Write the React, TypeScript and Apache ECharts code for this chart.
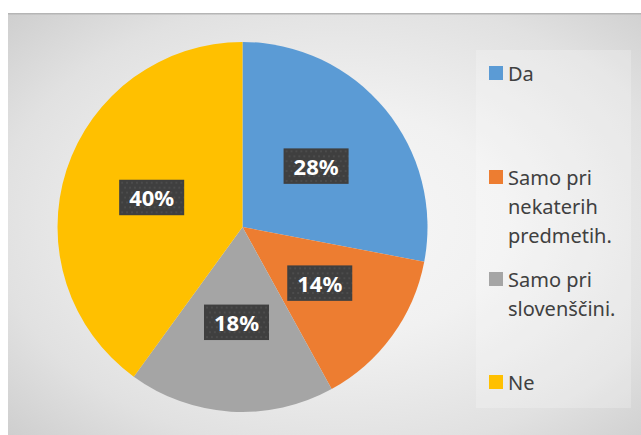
import React, { useEffect, useRef } from "react";
import * as echarts from "echarts";

const categories = ["Da", "Samo pri nekaterih predmetih.", "Samo pri slovenščini.", "Ne"];
const legendLines = [["Da"], ["Samo pri", "nekaterih", "predmetih."], ["Samo pri", "slovenščini."], ["Ne"]];
const values = [28, 14, 18, 40];
const colors = ["#5B9BD5", "#ED7D31", "#A5A5A5", "#FFC000"];
const legendFirstLineY = [60, 164, 266, 369];

function makeTexture(w: number, h: number): any {
  const c = document.createElement("canvas");
  c.width = w;
  c.height = h;
  const ctx = c.getContext("2d");
  if (!ctx) return "#404040";
  ctx.fillStyle = "#3f3f3f";
  ctx.fillRect(0, 0, w, h);
  ctx.fillStyle = "#4c4c4c";
  for (let y = 2; y < h; y += 5) {
    for (let x = ((y / 5) % 2) * 2.5 + 1; x < w; x += 5) {
      ctx.fillRect(Math.round(x), y, 2, 2);
    }
  }
  return c;
}

export default function App() {
  const ref = useRef<HTMLDivElement>(null);
  useEffect(() => {
    if (!ref.current) return;
    const chart = echarts.init(ref.current, null, { renderer: "svg" });
    const legendGraphics: any[] = [];
    legendLines.forEach((lines, i) => {
      const y = legendFirstLineY[i];
      legendGraphics.push({
        type: "rect",
        shape: { x: 481, y: y - 7, width: 14, height: 14 },
        style: { fill: colors[i] },
        silent: true,
      });
      legendGraphics.push({
        type: "text",
        x: 500,
        y: y - 14.5,
        style: {
          text: lines.join("\n"),
          fill: "#404040",
          fontSize: 20,
          fontFamily: "Noto Sans",
          lineHeight: 29,
          verticalAlign: "top",
          align: "left",
        },
        silent: true,
      });
    });
    const tex = makeTexture(66, 36);
    chart.setOption({
      animation: false,
      backgroundColor: {
        type: "radial",
        x: 0.52,
        y: 0.5,
        r: 0.9,
        colorStops: [
          { offset: 0, color: "#f7f7f7" },
          { offset: 0.3, color: "#f1f1f1" },
          { offset: 0.6, color: "#e1e1e1" },
          { offset: 1, color: "#bcbcbc" },
        ],
      },
      graphic: [
        {
          type: "rect",
          shape: { x: 0, y: 0, width: 633, height: 1.5 },
          style: { fill: "#b5b5b5" },
          silent: true,
        },
        {
          type: "rect",
          shape: { x: 468, y: 37, width: 155, height: 358 },
          style: { fill: "rgba(255,255,255,0.22)" },
          silent: true,
        },
        ...legendGraphics,
      ],
      series: [
        {
          type: "pie",
          center: [234.5, 214],
          radius: 185,
          startAngle: 90,
          clockwise: true,
          data: categories.map((name, i) => ({ name, value: values[i], itemStyle: { color: colors[i] } })),
          itemStyle: { borderWidth: 0 },
          label: {
            show: true,
            position: "inside",
            formatter: "{d}%",
            color: "#ffffff",
            fontSize: 22,
            fontWeight: "bold",
            fontFamily: "Noto Sans",
            lineHeight: 26,
            overflow: "none",
            backgroundColor: { image: tex },
            padding: [5, 10, 5, 10],
            shadowColor: "rgba(0,0,0,0.45)",
            shadowBlur: 4,
            shadowOffsetX: 2,
            shadowOffsetY: 3,
          },
          labelLine: { show: false },
          emphasis: { disabled: true },
        },
      ],
    });
    return () => chart.dispose();
  }, []);
  return (
    <div
      ref={ref}
      style={{ position: "absolute", left: 8, top: 13, width: 633, height: 422 }}
    />
  );
}
